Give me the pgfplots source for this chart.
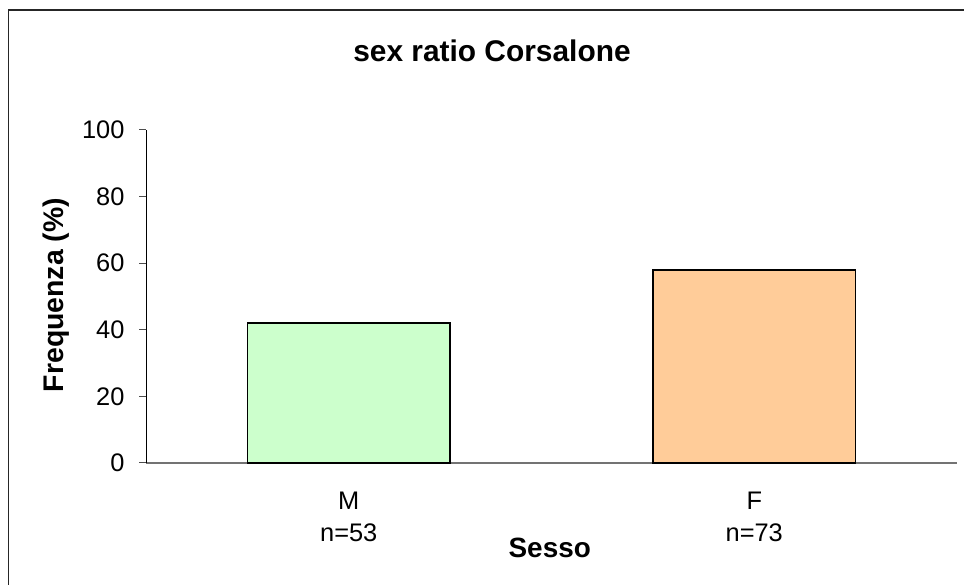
\documentclass[border=0pt]{standalone}
\usepackage{pgfplots}
\pgfplotsset{compat=1.18}
\usepackage{fontspec}
\setmainfont{Liberation Sans}
\definecolor{mgreen}{RGB}{204,255,204}
\definecolor{forange}{RGB}{255,204,153}
\begin{document}
\begin{tikzpicture}[x=1bp,y=1bp]
\path[use as bounding box] (0,0) rectangle (964,585);
\draw[line width=1.3bp, black!85] (8.8,-2) -- (8.8,575) -- (970,575);
\begin{axis}[
  at={(146bp,122bp)}, anchor=south west,
  scale only axis, width=811bp, height=333bp,
  xmin=-0.5, xmax=1.5, ymin=0, ymax=100,
  axis x line=bottom, axis y line=left,
  axis line style={-},
  x axis line style={black!55, line width=1.2bp},
  y axis line style={black, line width=1bp},
  ytick={0,20,...,100},
  tick align=outside, major tick length=7bp,
  y tick style={black!70, line width=1bp},
  xtick={0,1},
  xticklabels={{M\\n=53},{F\\n=73}},
  x tick style={draw=none},
  extra x ticks={-0.5,0.5,1.5},
  extra x tick labels={},
  extra x tick style={tick style={draw=black, line width=1bp}, major tick length=7bp},
  xticklabel style={align=center, font=\fontsize{25.5}{32}\selectfont, anchor=north, yshift=-19bp},
  yticklabel style={font=\fontsize{25.5}{30}\selectfont, xshift=-11bp},
  /pgf/number format/assume math mode=true,
  title={\bfseries sex ratio Corsalone},
  title style={at={(axis description cs:0.4266,1.2102)}, anchor=base, yshift=-7bp, font=\fontsize{30}{36}\selectfont},
  xlabel={\bfseries Sesso},
  xlabel style={at={(axis description cs:0.4978,-0.2823)}, anchor=base, font=\fontsize{28}{34}\selectfont},
  ylabel={\bfseries Frequenza (\%)},
  ylabel style={at={(axis description cs:-0.1023,0.5045)}, anchor=base, font=\fontsize{28.5}{34}\selectfont},
  clip=false,
]
\addplot[ybar, bar shift=0pt, bar width=0.5, fill=mgreen, draw=black, line width=1.5bp] coordinates {(0,42.06)};
\addplot[ybar, bar shift=0pt, bar width=0.5, fill=forange, draw=black, line width=1.5bp] coordinates {(1,57.94)};
\end{axis}
\end{tikzpicture}
\end{document}
